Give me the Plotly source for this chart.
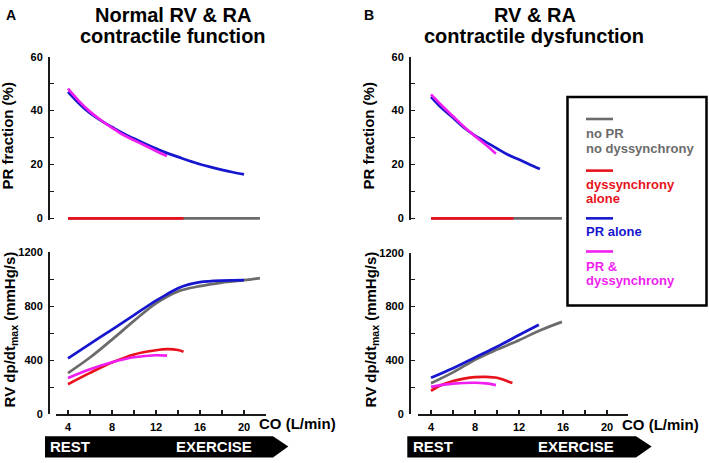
import plotly.graph_objects as go

W, H = 709, 463

# ---------------- data ----------------
# Panel A (normal RV & RA contractile function)
co_A_blue = [4, 5, 6, 7, 8, 9, 10, 11, 12, 13, 14, 15, 16, 17, 18, 19, 20]
pr_A_blue = [46.9, 42.6, 39.0, 36.3, 33.9, 31.6, 29.6, 27.7, 25.9, 24.2, 22.8, 21.4, 20.1, 19.0, 18.0, 17.1, 16.3]
co_A_mag = [4, 5, 6, 7, 8, 9, 10, 11, 12, 13]
pr_A_mag = [48.1, 43.5, 39.6, 36.4, 33.6, 31.0, 29.0, 27.0, 25.0, 23.1]
co_A_gray_pr = [4, 21.45]
pr_A_gray = [0, 0]
co_A_red_pr = [4, 14.5]
pr_A_red = [0, 0]

co_A_blue_dp = [4, 6, 8, 10, 12, 13, 14, 15, 16, 18, 20]
dp_A_blue = [414, 521, 628, 735, 842, 890, 935, 963, 980, 991, 994]
co_A_gray_dp = [4, 6, 8, 10, 12, 14, 16, 18, 20, 21.45]
dp_A_gray = [305, 420, 553, 692, 822, 911, 950, 976, 994, 1010]
co_A_red_dp = [4, 6, 8, 10, 12, 13, 14, 14.5]
dp_A_red = [222, 306, 383, 443, 474, 482, 476, 463]
co_A_mag_dp = [4, 6, 8, 10, 12, 13]
dp_A_mag = [268, 333, 385, 422, 437, 434]

# Panel B (RV & RA contractile dysfunction)
co_B_blue = [4, 5, 6, 7, 8, 9, 10, 11, 12, 13, 13.9]
pr_B_blue = [45.1, 40.8, 37.3, 33.6, 30.7, 28.3, 25.9, 23.6, 21.8, 19.9, 18.3]
co_B_mag = [4, 5, 6, 7, 8, 9, 9.9]
pr_B_mag = [46.0, 41.8, 37.9, 34.0, 30.5, 27.2, 24.0]
co_B_gray_pr = [4, 15.9]
pr_B_gray = [0, 0]
co_B_red_pr = [4, 11.5]
pr_B_red = [0, 0]

co_B_blue_dp = [4, 6, 8, 10, 12, 13.8]
dp_B_blue = [272, 343, 423, 502, 589, 666]
co_B_gray_dp = [4, 6, 8, 10, 12, 14, 15.9]
dp_B_gray = [231, 312, 405, 481, 551, 627, 687]
co_B_red_dp = [4, 5, 6, 7, 8, 9, 10, 11, 11.4]
dp_B_red = [176, 220, 248, 266, 277, 279, 272, 245, 233]
co_B_mag_dp = [4, 6, 8, 9, 9.9]
dp_B_mag = [205, 228, 235, 230, 218]

legend_labels = [["no PR", "no dyssynchrony"], ["dyssynchrony", "alone"], ["PR alone"], ["PR &", "dyssynchrony"]]

# ---------------- style ----------------
GRAY = "#6b6b6b"
RED = "#e8121c"
BLUE = "#1616cf"
MAG = "#f01ef0"
FONT = "Liberation Sans, Arial, sans-serif"
LW = 2.7


def X(px):
    return px / W


def Y(py):
    return 1 - py / H


fig = go.Figure()


def add(x, y, color, xa, ya):
    fig.add_trace(go.Scatter(x=x, y=y, mode="lines", line=dict(color=color, width=LW, shape="spline"),
                             xaxis=xa, yaxis=ya, showlegend=False, hoverinfo="skip"))


# top-left (x3,y3)
add(co_A_gray_pr, pr_A_gray, GRAY, "x3", "y3")
add(co_A_red_pr, pr_A_red, RED, "x3", "y3")
add(co_A_blue, pr_A_blue, BLUE, "x3", "y3")
add(co_A_mag, pr_A_mag, MAG, "x3", "y3")
# bottom-left (x,y)
add(co_A_gray_dp, dp_A_gray, GRAY, "x", "y")
add(co_A_blue_dp, dp_A_blue, BLUE, "x", "y")
add(co_A_red_dp, dp_A_red, RED, "x", "y")
add(co_A_mag_dp, dp_A_mag, MAG, "x", "y")
# top-right (x4,y4)
add(co_B_gray_pr, pr_B_gray, GRAY, "x4", "y4")
add(co_B_red_pr, pr_B_red, RED, "x4", "y4")
add(co_B_blue, pr_B_blue, BLUE, "x4", "y4")
add(co_B_mag, pr_B_mag, MAG, "x4", "y4")
# bottom-right (x2,y2)
add(co_B_gray_dp, dp_B_gray, GRAY, "x2", "y2")
add(co_B_blue_dp, dp_B_blue, BLUE, "x2", "y2")
add(co_B_red_dp, dp_B_red, RED, "x2", "y2")
add(co_B_mag_dp, dp_B_mag, MAG, "x2", "y2")

tickfont = dict(family=FONT, size=11, color="black", weight="bold")
axline = dict(showline=True, linecolor="#1a1a1a", linewidth=1.6, showgrid=False, zeroline=False,
              ticks="inside", ticklen=4, tickwidth=1.3, tickcolor="#1a1a1a", tickfont=tickfont)
minor_x = dict(dtick=2, ticks="inside", ticklen=4, tickcolor="#1a1a1a", tickwidth=1.3)

xA = [56, 266]
xB = [418, 628]
rA = [4 + (xA[0] - 68) / 11, 4 + (xA[1] - 68) / 11]
rB = [4 + (xB[0] - 431) / 11, 4 + (xB[1] - 431) / 11]

xcommon = dict(axline, tick0=0, dtick=4, minor=minor_x, ticklabelstandoff=2)

fig.update_layout(
    width=W, height=H, autosize=False,
    margin=dict(l=0, r=0, t=0, b=0),
    paper_bgcolor="white", plot_bgcolor="white",
    xaxis=dict(xcommon, domain=[X(xA[0]), X(xA[1])], range=rA, anchor="y"),
    xaxis2=dict(xcommon, domain=[X(xB[0]), X(xB[1])], range=rB, anchor="y2"),
    xaxis3=dict(domain=[X(xA[0]), X(xA[1])], range=rA, anchor="y3", visible=False, matches="x"),
    xaxis4=dict(domain=[X(xB[0]), X(xB[1])], range=rB, anchor="y4", visible=False, matches="x2"),
    yaxis=dict(axline, domain=[Y(419), Y(253)], range=[0, 1200], anchor="free", position=X(48),
               dtick=400, minor=dict(minor_x, dtick=200), ticklabelstandoff=3),
    yaxis2=dict(axline, domain=[Y(419.3), Y(253.3)], range=[0, 1200], anchor="free", position=X(409),
                dtick=400, minor=dict(minor_x, dtick=200), ticklabelstandoff=3),
    yaxis3=dict(axline, domain=[Y(220.2), Y(52)], range=[-0.8, 60], anchor="free", position=X(48),
                tick0=0, dtick=20, minor=dict(minor_x, dtick=10), ticklabelstandoff=3),
    yaxis4=dict(axline, domain=[Y(220.2), Y(52)], range=[-0.8, 60], anchor="free", position=X(409),
                tick0=0, dtick=20, minor=dict(minor_x, dtick=10), ticklabelstandoff=3),
)

ann = []


def text(px, py, s, size, color="black", xanchor="center", angle=0):
    ann.append(dict(x=X(px), y=Y(py), xref="paper", yref="paper", text=s, showarrow=False,
                    xanchor=xanchor, yanchor="middle", textangle=angle,
                    font=dict(family=FONT, size=size, color=color, weight="bold")))


# panel letters & titles
text(11, 9, "A", 14)
text(369, 9, "B", 14)
text(173, 9, "Normal RV &amp; RA", 20)
text(173, 31, "contractile function", 20)
text(535, 9, "RV &amp; RA", 20)
text(534, 31, "contractile dysfunction", 20)

# axis titles
text(8, 133, "PR fraction (%)", 15, angle=-90)
text(369, 133, "PR fraction (%)", 15, angle=-90)
text(10, 332, "RV dp/dt<sub>max</sub> (mmHg/s)", 15, angle=-90)
text(371, 332, "RV dp/dt<sub>max</sub> (mmHg/s)", 15, angle=-90)
text(297.5, 429, "CO (L/min)", 15)
text(660, 430, "CO (L/min)", 15)

# REST / EXERCISE bars
shapes = []


def arrow(x0, x1, xt):
    path = "M {a},{b} L {c},{b} L {d},{e} L {c},{f} L {a},{f} Z".format(
        a=X(x0), b=Y(441.7), c=X(x1), d=X(xt), e=Y(452.3), f=Y(463.5))
    shapes.append(dict(type="path", path=path, xref="paper", yref="paper",
                       fillcolor="black", line=dict(width=0)))


arrow(45, 273, 288.3)
arrow(407.3, 636, 651.7)
text(48, 452.5, "REST", 15, "white", "left")
text(174, 452.5, "EXERCISE", 15, "white", "left")
text(410.5, 452.5, "REST", 15, "white", "left")
text(535.5, 452.5, "EXERCISE", 15, "white", "left")

# legend box
shapes.append(dict(type="rect", xref="paper", yref="paper", x0=X(567.5), x1=X(706.5), y0=Y(307.5), y1=Y(93.5),
                   line=dict(color="black", width=2.5), fillcolor="white"))
leg_colors = [GRAY, RED, BLUE, MAG]
leg_line_y = [116, 169, 218, 252]
leg_text_y = [[131, 146], [183, 198], [232], [267, 282]]
for c, ly, labels, tys in zip(leg_colors, leg_line_y, legend_labels, leg_text_y):
    shapes.append(dict(type="line", xref="paper", yref="paper", x0=X(586), x1=X(613), y0=Y(ly), y1=Y(ly),
                       line=dict(color=c, width=2.6)))
    for lab, ty in zip(labels, tys):
        text(584, ty, lab, 13, c, "left")

fig.update_layout(annotations=ann, shapes=shapes)
fig.write_html("out.html", config={"displayModeBar": False, "staticPlot": True},
               post_script="document.body.style.margin='0';document.body.style.overflow='hidden';")
